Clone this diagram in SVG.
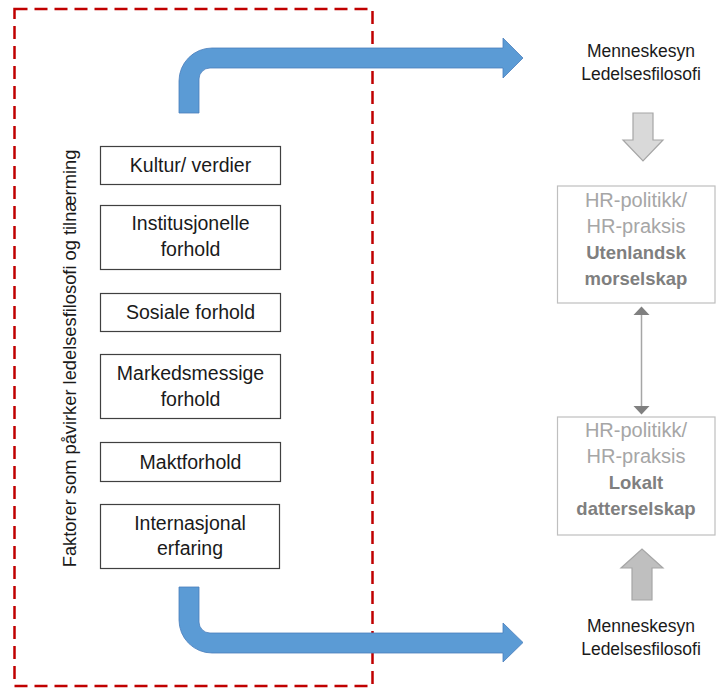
<svg xmlns="http://www.w3.org/2000/svg" width="716" height="688" viewBox="0 0 716 688">
<style>
text{font-family:"Liberation Sans",Arial,sans-serif;}
.box{fill:#fff;stroke:#404040;stroke-width:1.2;}
.bt{font-size:19.5px;fill:#1a1a1a;text-anchor:middle;}
.side{font-size:18.3px;fill:#1a1a1a;text-anchor:middle;}
.rt{font-size:17.5px;fill:#1a1a1a;text-anchor:middle;}
.hrbox{fill:#fff;stroke:#BFBFBF;stroke-width:1.2;}
.hr{font-size:20px;fill:#A6A6A6;text-anchor:middle;}
.hrb{font-size:18.5px;font-weight:bold;fill:#7F7F7F;text-anchor:middle;}
.blue{fill:#5B9BD5;stroke:#4A7EBB;stroke-width:0.8;}
.head{fill:#808080;}
</style>

<rect id="frame" x="14.5" y="9" width="358" height="677" fill="none" stroke="#C00000" stroke-width="2.5" stroke-dasharray="13 7"/>

<text id="sidelabel" class="side" transform="translate(76,358.5) rotate(-90)">Faktorer som påvirker ledelsesfilosofi og tilnærming</text>

<g id="connectors">
<path id="arrow-top" class="blue" d="M179,113 L179,81 A33,33 0 0 1 212,48 L503,48 L503,38 L523,58 L503,78 L503,68 L210,68 A11,11 0 0 0 199,79 L199,113 Z"/>
<path id="arrow-bottom" class="blue" d="M179,587 L179,620 A33,33 0 0 0 212,653 L503,653 L503,662 L523,642.5 L503,623 L503,633 L210,633 A11,11 0 0 1 199,622 L199,587 Z"/>
<path id="arrow-down-gray" d="M633,113 L653,113 L653,140 L663,140 L643,161 L623,140 L633,140 Z" fill="#D9D9D9" stroke="#A6A6A6" stroke-width="1.2"/>
<path id="arrow-up-gray" d="M632,600 L652,600 L652,568 L663,568 L642,549 L621,568 L632,568 Z" fill="#BFBFBF" stroke="#A6A6A6" stroke-width="1.2"/>
<g id="double-arrow">
<line x1="641.5" y1="314" x2="641.5" y2="407" stroke="#A6A6A6" stroke-width="1.5"/>
<path class="head" d="M641.5,306.5 L649.5,315 L633.5,315 Z"/>
<path class="head" d="M641.5,414.5 L649.5,406 L633.5,406 Z"/>
</g>
</g>

<g id="kultur">
<rect class="box" x="100.5" y="146.5" width="180" height="38"/>
<text class="bt" x="190.5" y="172">Kultur/ verdier</text>
</g>
<g id="institusjonelle">
<rect class="box" x="100.5" y="205.5" width="180" height="64"/>
<text class="bt" x="190.5" y="230">Institusjonelle</text>
<text class="bt" x="190.5" y="256">forhold</text>
</g>
<g id="sosiale">
<rect class="box" x="100.5" y="293.5" width="180" height="38"/>
<text class="bt" x="190.5" y="318.5">Sosiale forhold</text>
</g>
<g id="markedsmessige">
<rect class="box" x="100.5" y="354.5" width="180" height="64"/>
<text class="bt" x="190.5" y="380">Markedsmessige</text>
<text class="bt" x="190.5" y="406">forhold</text>
</g>
<g id="maktforhold">
<rect class="box" x="100.5" y="442.5" width="180" height="39"/>
<text class="bt" x="190.5" y="468.5">Maktforhold</text>
</g>
<g id="internasjonal">
<rect class="box" x="100.5" y="504.5" width="179" height="64"/>
<text class="bt" x="190" y="530">Internasjonal</text>
<text class="bt" x="190" y="555">erfaring</text>
</g>

<g id="menneskesyn-top">
<text class="rt" x="641" y="57">Menneskesyn</text>
<text class="rt" x="641" y="80">Ledelsesfilosofi</text>
</g>
<g id="hr-mor">
<rect class="hrbox" x="557.5" y="186" width="157.5" height="117"/>
<text class="hr" x="636" y="207">HR-politikk/</text>
<text class="hr" x="636" y="233">HR-praksis</text>
<text class="hrb" x="636" y="259">Utenlandsk</text>
<text class="hrb" x="636" y="285">morselskap</text>
</g>
<g id="hr-datter">
<rect class="hrbox" x="557.5" y="417" width="157.5" height="118"/>
<text class="hr" x="636" y="437">HR-politikk/</text>
<text class="hr" x="636" y="463">HR-praksis</text>
<text class="hrb" x="636" y="489">Lokalt</text>
<text class="hrb" x="636" y="515">datterselskap</text>
</g>
<g id="menneskesyn-bottom">
<text class="rt" x="641" y="632">Menneskesyn</text>
<text class="rt" x="641" y="655">Ledelsesfilosofi</text>
</g>
</svg>
